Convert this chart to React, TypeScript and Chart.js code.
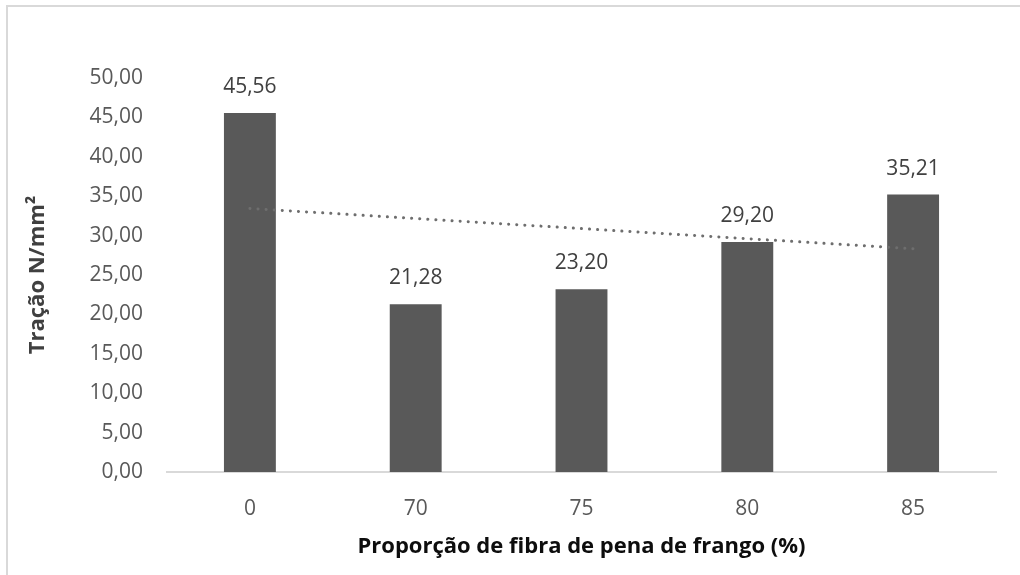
import React, { useEffect, useRef } from "react";
import { Chart, registerables } from "chart.js";

Chart.register(...registerables);

const categories = ["0", "70", "75", "80", "85"];
const tracao = [45.56, 21.28, 23.2, 29.2, 35.21];
const yTicksMin = 0;
const yTicksMax = 50;
const yTicksStep = 5;

const FONT = "'Open Sans', 'Noto Sans', sans-serif";
const fmt = (v: number) => v.toFixed(2).replace(".", ",");

// Linear least-squares trendline over the category index (1..n)
function linearTrend(values: number[]): number[] {
  const n = values.length;
  const xs = values.map((_, i) => i + 1);
  const mx = xs.reduce((a, b) => a + b, 0) / n;
  const my = values.reduce((a, b) => a + b, 0) / n;
  let num = 0;
  let den = 0;
  xs.forEach((x, i) => {
    num += (x - mx) * (values[i] - my);
    den += (x - mx) * (x - mx);
  });
  const slope = num / den;
  return xs.map((x) => my + slope * (x - mx));
}

const valueLabels = {
  id: "valueLabels",
  afterDatasetsDraw(chart: any) {
    const meta = chart.getDatasetMeta(0);
    const ctx = chart.ctx;
    ctx.save();
    ctx.font = `21px ${FONT}`;
    ctx.fillStyle = "#404040";
    ctx.textAlign = "center";
    ctx.textBaseline = "middle";
    meta.data.forEach((bar: any, i: number) => {
      ctx.fillText(fmt(tracao[i]), bar.x, bar.y - 26);
    });
    ctx.restore();
  },
};

export default function App() {
  const ref = useRef<HTMLCanvasElement>(null);

  useEffect(() => {
    if (!ref.current) return;
    const chart = new Chart(ref.current, {
      type: "bar",
      data: {
        labels: categories,
        datasets: [
          {
            type: "bar",
            data: tracao,
            backgroundColor: "#595959",
            categoryPercentage: 1,
            barPercentage: 0.313,
            order: 2,
          },
          {
            type: "line",
            data: linearTrend(tracao),
            borderColor: "#6e6e6e",
            borderWidth: 3,
            borderDash: [0.1, 8],
            borderCapStyle: "round",
            pointRadius: 0,
            fill: false,
            order: 1,
          } as any,
        ],
      },
      options: {
        animation: false,
        responsive: false,
        events: [],
        layout: { padding: { left: 0, top: 78, right: 24, bottom: 0 } },
        plugins: { legend: { display: false }, tooltip: { enabled: false } },
        scales: {
          x: {
            grid: { display: false },
            border: { display: true, color: "#d9d9d9", width: 2 },
            ticks: {
              color: "#595959",
              font: { family: FONT, size: 21 },
              padding: 16,
            },
            title: {
              display: true,
              text: "Proporção de fibra de pena de frango (%)",
              color: "#0d0d0d",
              font: { family: FONT, size: 22, weight: "bold" },
              padding: { top: 0, bottom: 15 },
            },
            afterFit(scale: any) {
              scale.height = 575 - 472;
            },
          },
          y: {
            min: yTicksMin,
            max: yTicksMax,
            grid: { display: false },
            border: { display: false },
            ticks: {
              stepSize: yTicksStep,
              color: "#595959",
              font: { family: FONT, size: 21 },
              padding: 16,
              callback: (v: any) => fmt(Number(v)),
            },
            title: {
              display: true,
              text: "Tração N/mm²",
              color: "#404040",
              font: { family: FONT, size: 22, weight: "bold" },
              padding: { top: 25, bottom: 0 },
            },
            afterFit(scale: any) {
              scale.width = 167;
            },
          },
        },
      },
      plugins: [valueLabels],
    });
    return () => chart.destroy();
  }, []);

  return (
    <div
      style={{
        position: "absolute",
        left: 0,
        top: 0,
        width: 1020,
        height: 575,
        overflow: "hidden",
        background: "#fff",
      }}
    >
      <div
        style={{
          position: "absolute",
          left: 6,
          top: 5,
          width: 1100,
          height: 700,
          border: "2px solid #d9d9d9",
        }}
      />
      <canvas
        ref={ref}
        width={1020}
        height={575}
        style={{ position: "absolute", left: 0, top: 0 }}
      />
    </div>
  );
}
